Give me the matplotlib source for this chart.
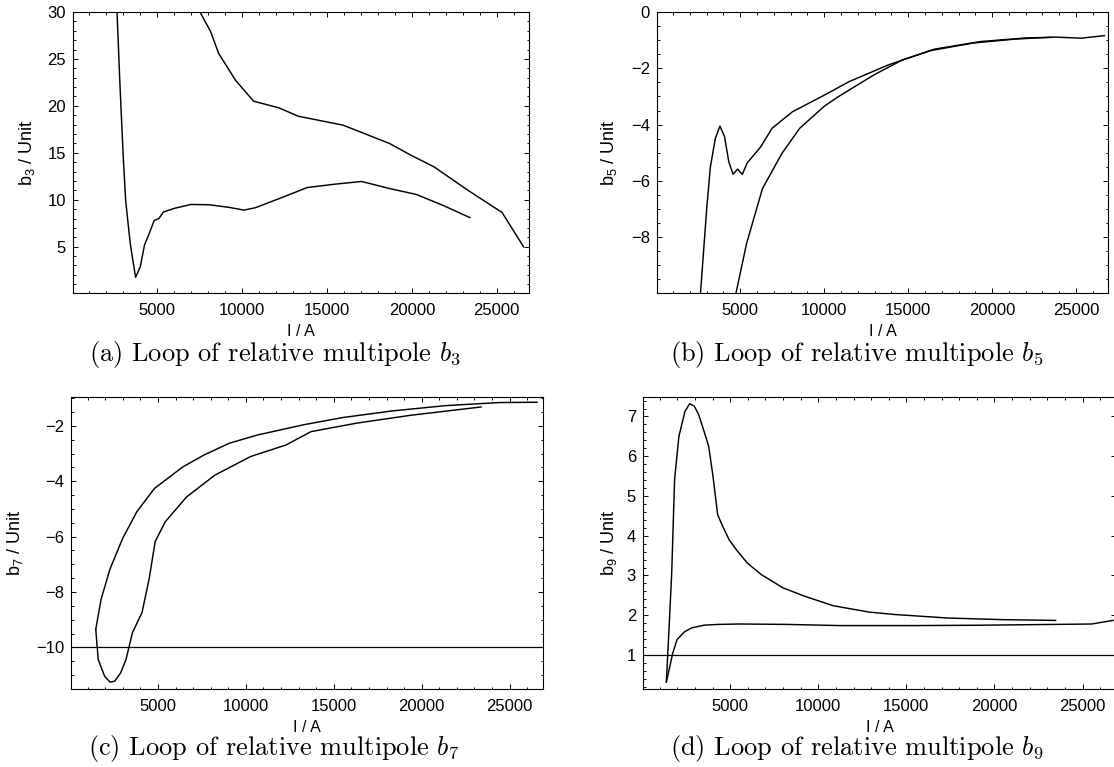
import matplotlib
matplotlib.use("Agg")
import matplotlib.pyplot as plt
from matplotlib.ticker import FixedLocator, MultipleLocator

plt.rcParams['font.family'] = ['Liberation Sans', 'DejaVu Sans']
plt.rcParams['mathtext.fontset'] = 'custom'
plt.rcParams['mathtext.rm'] = 'Liberation Sans'
plt.rcParams['mathtext.it'] = 'Liberation Sans'
plt.rcParams['axes.unicode_minus'] = True

# ---- data (current I in A, multipole in units) ----
# (a) b3
b3_up_I = [2642, 2811, 3000, 3148, 3274, 3421, 3569, 3737, 4011, 4263, 4537, 4832,
           5105, 5379, 6050, 7000, 8052, 9210, 10115, 10789, 12368, 13840, 15420,
           17040, 18680, 20260, 21840, 23420]
b3_up = [30.0, 22.4, 14.9, 10.0, 7.8, 5.35, 3.6, 1.74, 2.87, 5.2, 6.4, 7.8,
         8.0, 8.7, 9.1, 9.5, 9.47, 9.2, 8.9, 9.15, 10.25, 11.3, 11.65,
         11.95, 11.2, 10.57, 9.4, 8.1]
b3_dn_I = [7526, 8158, 8621, 9631, 10684, 12157, 13315, 15946, 17210, 18680,
           19945, 21313, 23313, 25313, 26576]
b3_dn = [30.0, 27.9, 25.6, 22.7, 20.5, 19.8, 18.9, 17.95, 17.05, 16.0,
         14.75, 13.5, 11.0, 8.65, 5.0]

# (b) b5
b5_up_I = [2637, 3017, 3228, 3523, 3797, 4072, 4325, 4578, 4852, 5127, 5422,
           6224, 6900, 8123, 10022, 11500, 13820, 16563, 19306, 22050, 23500]
b5_up = [-10.0, -6.92, -5.5, -4.49, -4.05, -4.43, -5.32, -5.76, -5.58, -5.77, -5.36,
         -4.79, -4.13, -3.54, -2.95, -2.47, -1.88, -1.32, -1.05, -0.92, -0.9]
b5_dn_I = [4747, 5380, 6329, 7490, 8545, 10022, 10866, 12976, 14664, 16352,
           18884, 21416, 23737, 25300, 26690]
b5_dn = [-10.0, -8.23, -6.27, -5.02, -4.13, -3.34, -3.0, -2.23, -1.7, -1.37,
         -1.1, -0.96, -0.89, -0.93, -0.84]

# (c) b7
b7_up_I = [1458, 1600, 1964, 2268, 2531, 2875, 3178, 3543, 4089, 4494, 4838,
           5405, 6619, 8238, 10262, 12286, 13703, 16334, 19370, 23378]
b7_up = [-9.35, -10.44, -11.04, -11.25, -11.22, -10.92, -10.44, -9.47, -8.74,
         -7.53, -6.18, -5.47, -4.57, -3.78, -3.11, -2.69, -2.21, -1.9, -1.62, -1.32]
b7_dn_I = [1458, 1762, 2268, 2976, 3786, 4798, 6417, 7631, 9048, 10667, 13298,
           15525, 18358, 21394, 24430, 26556]
b7_dn = [-9.35, -8.26, -7.17, -6.08, -5.11, -4.26, -3.48, -3.05, -2.63, -2.33,
         -1.96, -1.7, -1.46, -1.27, -1.16, -1.15]
b7_ref = -10

# (d) b9
b9_up_I = [1374, 1517, 1680, 1843, 2088, 2434, 2698, 2963, 3207, 3513, 3778,
           4022, 4287, 4572, 4939, 5346, 5957, 6772, 7994, 9217, 10846, 12883,
           14309, 17364, 20420, 23475]
b9_up = [0.32, 1.56, 3.07, 5.41, 6.5, 7.13, 7.32, 7.26, 7.05, 6.63, 6.25,
         5.5, 4.53, 4.24, 3.9, 3.65, 3.32, 3.02, 2.69, 2.48, 2.24, 2.08,
         2.02, 1.93, 1.89, 1.87]
b9_dn_I = [1374, 1741, 1985, 2393, 2800, 3513, 4328, 5550, 8198, 11253, 15327,
           19400, 23475, 25512, 26734]
b9_dn = [0.32, 1.05, 1.39, 1.58, 1.68, 1.75, 1.77, 1.78, 1.77, 1.74, 1.74,
         1.75, 1.77, 1.78, 1.87]
b9_ref = 1

x_ticks = [5000, 10000, 15000, 20000, 25000]

W, H = 1114, 767
fig = plt.figure(figsize=(W / 100, H / 100), dpi=100)


def make_axes(left, right, top, bottom):
    return fig.add_axes([left / W, 1 - bottom / H, (right - left) / W, (bottom - top) / H])


def style(ax, box, ylim, yticks, yminor, ylabel, ylabel_px):
    left, right, top, bottom = box
    ax.set_xlim(50, 26900)
    ax.set_ylim(*ylim)
    ax.xaxis.set_major_locator(FixedLocator(x_ticks))
    ax.xaxis.set_minor_locator(MultipleLocator(1000))
    ax.yaxis.set_major_locator(FixedLocator(yticks))
    ax.yaxis.set_minor_locator(MultipleLocator(yminor))
    ax.tick_params(which='both', direction='in', top=True, right=True, width=0.7)
    ax.tick_params(which='major', length=3.4, labelsize=12)
    ax.tick_params(which='minor', length=1.8)
    ax.tick_params(axis='x', pad=7)
    ax.tick_params(axis='y', pad=5)
    for s in ax.spines.values():
        s.set_linewidth(0.8)
    ax.set_xlabel('I / A', fontsize=11.5)
    ax.xaxis.set_label_coords(0.5, -(31.0 / (bottom - top)))
    ax.set_ylabel(ylabel, fontsize=13)
    ax.yaxis.set_label_coords((ylabel_px - left) / (right - left), 0.5)


line_kw = dict(color='black', lw=1.05)

# (a)
box = (73, 529, 12, 293)
ax = make_axes(*box)
ax.plot(b3_up_I, b3_up, **line_kw)
ax.plot(b3_dn_I, b3_dn, **line_kw)
style(ax, box, (0.07, 30), [5, 10, 15, 20, 25, 30], 1, 'b$_3$ / Unit', 37)

# (b)
box = (657, 1108, 12, 293)
ax = make_axes(*box)
ax.plot(b5_up_I, b5_up, **line_kw)
ax.plot(b5_dn_I, b5_dn, **line_kw)
style(ax, box, (-9.98, 0), [-8, -6, -4, -2, 0], 0.5, 'b$_5$ / Unit', 619)

# (c)
box = (71, 543, 397, 689)
ax = make_axes(*box)
ax.plot(b7_up_I, b7_up, **line_kw)
ax.plot(b7_dn_I, b7_dn, **line_kw)
ax.axhline(b7_ref, color='black', lw=0.9)
style(ax, box, (-11.5, -0.96), [-10, -8, -6, -4, -2], 0.5, 'b$_7$ / Unit', 25)

# (d)
box = (643, 1116, 397, 689)
ax = make_axes(*box)
ax.plot(b9_up_I, b9_up, **line_kw)
ax.plot(b9_dn_I, b9_dn, **line_kw)
ax.axhline(b9_ref, color='black', lw=0.9)
style(ax, box, (0.145, 7.49), [1, 2, 3, 4, 5, 6, 7], 0.2, 'b$_9$ / Unit', 619)

captions = [('(a) Loop of relative multipole $b_3$', 275, 355),
            ('(b) Loop of relative multipole $b_5$', 857, 355),
            ('(c) Loop of relative multipole $b_7$', 274, 749),
            ('(d) Loop of relative multipole $b_9$', 857, 749)]
for txt, cx, cy in captions:
    fig.text(cx / W, 1 - cy / H, txt, ha='center', va='center', fontsize=19,
             family='cmr10', math_fontfamily='cm')

fig.savefig('out.png', dpi=100)
